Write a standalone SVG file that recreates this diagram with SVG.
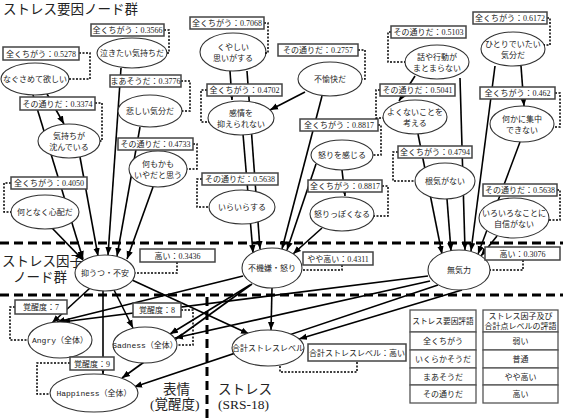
<svg xmlns="http://www.w3.org/2000/svg" width="563" height="418" viewBox="0 0 563 418">
<defs>
<marker id="ah" viewBox="0 0 10 10" refX="10" refY="5" markerWidth="8" markerHeight="8" markerUnits="userSpaceOnUse" orient="auto"><path d="M0,1 L10,5 L0,9 z" fill="#000"/></marker>
<style>
.bg{fill:#fff}
.n ellipse{fill:#fff;stroke:#333;stroke-width:1.1}
.t{font-family:"Liberation Serif","Noto Sans CJK JP",serif;font-size:8px;fill:#222;text-anchor:middle}
.m{font-family:"Liberation Mono","Noto Sans CJK JP",monospace;font-size:8px;fill:#222;text-anchor:middle}
.lb rect{fill:#fff;stroke:#444;stroke-width:1.5}
.e{stroke:#000;stroke-width:1.6;fill:none;marker-end:url(#ah)}
.d{stroke:#000;stroke-width:1.5;stroke-dasharray:2 1.5;fill:none}
.sep{stroke:#000;stroke-width:3;stroke-dasharray:9 5;fill:none}
.big{font-family:"Liberation Serif","Noto Sans CJK JP",serif;font-size:13.5px;fill:#222}
.tb{fill:#fff;stroke:#555;stroke-width:1.3}
</style>
</defs>
<rect class="bg" x="0" y="0" width="563" height="418"/>

<g id="separators">
<line class="sep" x1="0" y1="243" x2="563" y2="243"/>
<line class="sep" x1="0" y1="295" x2="563" y2="295"/>
<line class="sep" x1="207" y1="297" x2="207" y2="418"/>
</g>

<g id="titles">
<text class="big" x="3" y="14">ストレス要因ノード群</text>
<text class="big" x="2" y="266">ストレス因子</text>
<text class="big" x="13" y="282">ノード群</text>
<text class="big" x="163" y="394">表情</text>
<text class="big" x="150" y="409">(覚醒度)</text>
<text class="big" x="218" y="394">ストレス</text>
<text class="big" x="218" y="409">(SRS-18)</text>
</g>

<g id="connectors">
<path class="e" d="M47,94 L64,124"/>
<path class="e" d="M33,95 L83,259"/>
<path class="e" d="M52,228 L83,260"/>
<path class="e" d="M80,157 L98,256"/>
<path class="e" d="M121,68 L108,255"/>
<path class="e" d="M140,127 L117,256"/>
<path class="e" d="M153,187 L127,259"/>

<path class="e" d="M230,71 L232,100"/>
<path class="e" d="M247,71 L260,249"/>
<path class="e" d="M305,92 L270,110"/>
<path class="e" d="M322,96 L282,249"/>
<path class="e" d="M243,134 L253,253"/>
<path class="e" d="M316,164 L287,250"/>
<path class="e" d="M342,170 L345,196"/>
<path class="e" d="M322,228 L293,254"/>

<path class="e" d="M415,76 L399,101"/>
<path class="e" d="M460,78 L465,250"/>
<path class="e" d="M521,66 L524,106"/>
<path class="e" d="M495,66 L471,251"/>
<path class="e" d="M418,134 L442,254"/>
<path class="e" d="M447,199 L451,251"/>
<path class="e" d="M520,142 L478,254"/>
<path class="e" d="M497,236 L481,256"/>

<path class="e" d="M90,288 L52,323"/>
<path class="e" d="M114,290 L133,328"/>
<path class="e" d="M103,291 L103,374"/>
<path class="e" d="M132,280 L249,334"/>
<path class="e" d="M243,276 L57,322"/>
<path class="e" d="M250,285 L170,334"/>
<path class="e" d="M252,284 L122,378"/>
<path class="e" d="M272,288 L271,330"/>
<path class="e" d="M428,276 L62,322"/>
<path class="e" d="M430,281 L175,338"/>
<path class="e" d="M438,285 L134,387"/>
<path class="e" d="M462,290 L299,339"/>
</g>

<g id="n1" class="n"><ellipse cx="35" cy="79" rx="34" ry="16"/><text class="t" x="35" y="82">なぐさめて欲しい</text></g>
<g id="n2" class="n"><ellipse cx="132" cy="53" rx="35" ry="15"/><text class="t" x="132" y="56">泣きたい気持ちだ</text></g>
<g id="n3" class="n"><ellipse cx="150" cy="111" rx="32" ry="16"/><text class="t" x="150" y="114">悲しい気分だ</text></g>
<g id="n4" class="n"><ellipse cx="69" cy="141" rx="31" ry="17"/><text class="t" x="69" y="139">気持ちが</text><text class="t" x="69" y="150">沈んでいる</text></g>
<g id="n5" class="n"><ellipse cx="158" cy="169" rx="29" ry="18"/><text class="t" x="158" y="167">何もかも</text><text class="t" x="158" y="178">いやだと思う</text></g>
<g id="n6" class="n"><ellipse cx="45" cy="212" rx="34" ry="17"/><text class="t" x="45" y="215">何となく心配だ</text></g>

<g id="n7" class="n"><ellipse cx="233" cy="52" rx="33" ry="19"/><text class="t" x="233" y="50">くやしい</text><text class="t" x="233" y="61">思いがする</text></g>
<g id="n8" class="n"><ellipse cx="330" cy="79" rx="32" ry="17"/><text class="t" x="330" y="82">不愉快だ</text></g>
<g id="n9" class="n"><ellipse cx="241" cy="118" rx="33" ry="17"/><text class="t" x="241" y="116">感情を</text><text class="t" x="241" y="127">抑えられない</text></g>
<g id="n10" class="n"><ellipse cx="342" cy="155" rx="31" ry="15"/><text class="t" x="342" y="158">怒りを感じる</text></g>
<g id="n11" class="n"><ellipse cx="342" cy="214" rx="32" ry="17"/><text class="t" x="342" y="217">怒りっぽくなる</text></g>
<g id="n12" class="n"><ellipse cx="242" cy="207" rx="33" ry="17"/><text class="t" x="242" y="210">いらいらする</text></g>

<g id="n13" class="n"><ellipse cx="437" cy="62" rx="32" ry="17"/><text class="t" x="437" y="60">話や行動が</text><text class="t" x="437" y="71">まとまらない</text></g>
<g id="n14" class="n"><ellipse cx="513" cy="49" rx="32" ry="17"/><text class="t" x="513" y="47">ひとりでいたい</text><text class="t" x="513" y="58">気分だ</text></g>
<g id="n15" class="n"><ellipse cx="415" cy="117" rx="32" ry="17"/><text class="t" x="415" y="115">よくないことを</text><text class="t" x="415" y="126">考える</text></g>
<g id="n16" class="n"><ellipse cx="522" cy="124" rx="32" ry="18"/><text class="t" x="522" y="122">何かに集中</text><text class="t" x="522" y="133">できない</text></g>
<g id="n17" class="n"><ellipse cx="445" cy="181" rx="30" ry="18"/><text class="t" x="445" y="184">根気がない</text></g>
<g id="n18" class="n"><ellipse cx="514" cy="218" rx="35" ry="20"/><text class="t" x="514" y="216">いろいろなことに</text><text class="t" x="514" y="227">自信がない</text></g>

<g id="n19" class="n"><ellipse cx="105" cy="273" rx="30" ry="18"/><text class="t" x="105" y="276">抑うつ・不安</text></g>
<g id="n20" class="n"><ellipse cx="272" cy="268" rx="30" ry="20"/><text class="t" x="272" y="271">不機嫌・怒り</text></g>
<g id="n21" class="n"><ellipse cx="459" cy="270" rx="31" ry="20"/><text class="t" x="459" y="273">無気力</text></g>

<g id="n22" class="n"><ellipse cx="60" cy="340" rx="32" ry="18"/><text class="m" x="60" y="343">Angry（全体）</text></g>
<g id="n23" class="n"><ellipse cx="145" cy="345" rx="32" ry="18"/><text class="m" x="145" y="348">Sadness（全体）</text></g>
<g id="n24" class="n"><ellipse cx="94" cy="393" rx="44" ry="19"/><text class="m" x="94" y="396">Happiness（全体）</text></g>
<g id="n25" class="n"><ellipse cx="268" cy="348" rx="36" ry="18"/><text class="t" x="268" y="351">合計ストレスレベル</text></g>

<g id="labels">
<g id="l1" class="lb"><polyline class="d" points="79,53 90,53 90,79 69,79"/><rect x="3" y="47" width="76" height="13"/><text class="t" x="41" y="56.5">全くちがう：0.5278</text></g>
<g id="l2" class="lb"><polyline class="d" points="164,30 169,30 169,53 167,53"/><rect x="91" y="24" width="73" height="12"/><text class="t" x="127.5" y="33">全くちがう：0.3566</text></g>
<g id="l3" class="lb"><polyline class="d" points="181,81 190,81 190,111 182,111"/><rect x="110" y="75" width="71" height="12"/><text class="t" x="145.5" y="84">まあそうだ：0.3776</text></g>
<g id="l4" class="lb"><polyline class="d" points="95,103 102,103 102,141 100,141"/><rect x="20" y="97" width="75" height="13"/><text class="t" x="57.5" y="106.5">その通りだ：0.3374</text></g>
<g id="l5" class="lb"><polyline class="d" points="193,144 197,144 197,169 187,169"/><rect x="118" y="138" width="75" height="12"/><text class="t" x="155.5" y="147">その通りだ：0.4733</text></g>
<g id="l6" class="lb"><polyline class="d" points="11,183 4,183 4,212 11,212"/><rect x="11" y="177" width="76" height="12"/><text class="t" x="49" y="186">全くちがう：0.4050</text></g>
<g id="l7" class="lb"><polyline class="d" points="264,23 268,23 268,53 265,53"/><rect x="190" y="17" width="74" height="12"/><text class="t" x="227" y="26">全くちがう：0.7068</text></g>
<g id="l8" class="lb"><polyline class="d" points="358,50 365,50 365,79 362,79"/><rect x="278" y="44" width="80" height="12"/><text class="t" x="318" y="53">その通りだ：0.2757</text></g>
<g id="l9" class="lb"><polyline class="d" points="207,90 201,90 201,122 209,122"/><rect x="207" y="84" width="75" height="12"/><text class="t" x="244.5" y="93">全くちがう：0.4702</text></g>
<g id="l10" class="lb"><polyline class="d" points="378,125 381,125 381,155 373,155"/><rect x="300" y="119" width="78" height="12"/><text class="t" x="339" y="128">全くちがう：0.8817</text></g>
<g id="l11" class="lb"><polyline class="d" points="202,179 197,179 197,207 209,207"/><rect x="202" y="173" width="76" height="12"/><text class="t" x="240" y="182">その通りだ：0.5638</text></g>
<g id="l12" class="lb"><polyline class="d" points="382,186 388,186 388,216 374,216"/><rect x="308" y="180" width="74" height="12"/><text class="t" x="345" y="189">全くちがう：0.8817</text></g>
<g id="l13" class="lb"><polyline class="d" points="391,32 388,32 388,62 405,62"/><rect x="391" y="26" width="75" height="12"/><text class="t" x="428.5" y="35">その通りだ：0.5103</text></g>
<g id="l14" class="lb"><polyline class="d" points="547,18 550,18 550,45 544,45"/><rect x="473" y="12" width="74" height="12"/><text class="t" x="510" y="21">全くちがう：0.6172</text></g>
<g id="l15" class="lb"><polyline class="d" points="380,90 376,90 376,118 383,118"/><rect x="380" y="84" width="75" height="12"/><text class="t" x="417.5" y="93">その通りだ：0.5041</text></g>
<g id="l16" class="lb"><polyline class="d" points="555,93 560,93 560,127 554,127"/><rect x="480" y="87" width="75" height="12"/><text class="t" x="517.5" y="96">全くちがう：0.462</text></g>
<g id="l17" class="lb"><polyline class="d" points="398,152 393,152 393,181 415,181"/><rect x="398" y="146" width="74" height="12"/><text class="t" x="435" y="155">全くちがう：0.4794</text></g>
<g id="l18" class="lb"><polyline class="d" points="557,190 560,190 560,220 549,220"/><rect x="483" y="184" width="74" height="12"/><text class="t" x="520" y="193">その通りだ：0.5638</text></g>
<g id="l19" class="lb"><polyline class="d" points="177,262 177,273 135,273"/><rect x="140" y="249" width="75" height="13"/><text class="t" x="177.5" y="258.5">高い：0.3436</text></g>
<g id="l20" class="lb"><polyline class="d" points="342,265 342,270 302,270"/><rect x="303" y="252" width="70" height="13"/><text class="t" x="338" y="261.5">やや高い：0.4311</text></g>
<g id="l21" class="lb"><polyline class="d" points="523,260 523,270 490,270"/><rect x="485" y="247" width="75" height="13"/><text class="t" x="522.5" y="256.5">高い：0.3076</text></g>
<g id="l22" class="lb"><polyline class="d" points="15,307 10,307 10,340 28,340"/><rect x="15" y="300" width="52" height="14"/><text class="t" x="41" y="310">覚醒度：7</text></g>
<g id="l23" class="lb"><polyline class="d" points="181,310 193,310 193,345 177,345"/><rect x="133" y="303" width="48" height="14"/><text class="t" x="157" y="313">覚醒度：8</text></g>
<g id="l24" class="lb"><polyline class="d" points="70,363 37,363 37,394 50,394"/><rect x="70" y="357" width="44" height="13"/><text class="t" x="92" y="366.5">覚醒度：9</text></g>
<g id="l25" class="lb"><polyline class="d" points="280,366 280,372 357,372 357,361"/><rect x="308" y="344" width="98" height="17"/><text class="t" x="357" y="355.5">合計ストレスレベル：高い</text></g>
</g>

<g id="legend">
<rect class="tb" x="410" y="310" width="66" height="22"/>
<rect class="tb" x="410" y="332" width="66" height="18"/>
<rect class="tb" x="410" y="350" width="66" height="18"/>
<rect class="tb" x="410" y="368" width="66" height="17"/>
<rect class="tb" x="410" y="385" width="66" height="18"/>
<text class="t" x="443" y="324" style="font-size:7.7px">ストレス要因評語</text>
<text class="t" x="443" y="344">全くちがう</text>
<text class="t" x="443" y="362">いくらかそうだ</text>
<text class="t" x="443" y="379.5">まあそうだ</text>
<text class="t" x="443" y="397">その通りだ</text>
<rect class="tb" x="483" y="310" width="75" height="22"/>
<rect class="tb" x="483" y="332" width="75" height="18"/>
<rect class="tb" x="483" y="350" width="75" height="18"/>
<rect class="tb" x="483" y="368" width="75" height="17"/>
<rect class="tb" x="483" y="385" width="75" height="18"/>
<text class="t" x="520.5" y="319">ストレス因子及び</text>
<text class="t" x="520.5" y="329">合計点レベルの評語</text>
<text class="t" x="520.5" y="344">弱い</text>
<text class="t" x="520.5" y="362">普通</text>
<text class="t" x="520.5" y="379.5">やや高い</text>
<text class="t" x="520.5" y="397">高い</text>
</g>
</svg>
